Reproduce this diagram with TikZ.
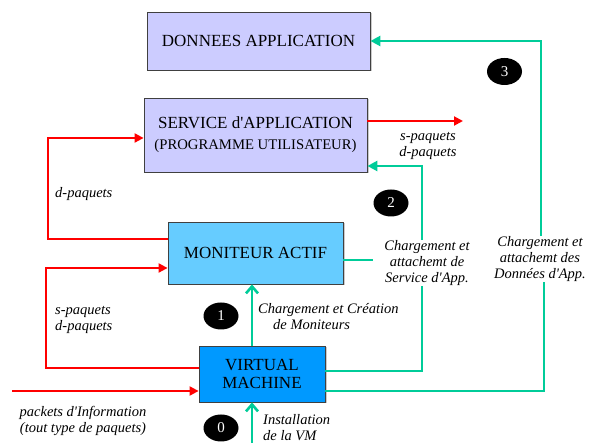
\documentclass[tikz,border=0pt]{standalone}
\usepackage{fontspec}
\setmainfont{Liberation Serif}
\usetikzlibrary{arrows.meta,shapes.geometric,shadows}
\definecolor{lav}{HTML}{CCCCFF}
\definecolor{monblue}{HTML}{66CCFF}
\definecolor{vmblue}{HTML}{0099FF}
\definecolor{grn}{HTML}{00CC99}
\definecolor{rd}{HTML}{FF0000}
\newcommand{\ap}{\textquotesingle}
\tikzset{
  box/.style={draw=black!75, line width=0.8pt, inner sep=0pt, align=center,
    font=\fontsize{17}{18}\selectfont,
    drop shadow={shadow xshift=1.5pt, shadow yshift=-1.5pt, fill=black!35, opacity=0.6}},
  lbl/.style={inner sep=0pt, font=\fontsize{14.5}{16}\selectfont\itshape},
  num/.style={ellipse, fill=black, text=white, inner sep=0pt,
    minimum width=35pt, minimum height=27pt, font=\fontsize{15}{16}\selectfont},
  redln/.style={draw=rd, line width=2pt},
  redarr/.style={redln, -{Triangle[length=9pt,width=9pt]}},
  grnln/.style={draw=grn, line width=2.6pt},
  grnarr/.style={grnln, -{Triangle[length=10pt,width=10pt]}},
  grnup/.style={grnln, -{Straight Barb[length=7pt,width=12pt,line width=2.6pt]}}
}
\begin{document}
\begin{tikzpicture}[x=1pt,y=-1pt]
\useasboundingbox (0,0) rectangle (590,443);
% boxes
\node[box, fill=lav, minimum width=223pt, minimum height=58pt] (don) at (258.5,41) {DONNEES APPLICATION};
\node[box, fill=lav, minimum width=223pt, minimum height=74pt] (svc) at (255.5,135)
  {SERVICE d\ap APPLICATION\\[3pt]{\fontsize{14.7}{16}\selectfont (PROGRAMME UTILISATEUR)}};
\node[box, fill=monblue, minimum width=175pt, minimum height=62pt] (mon) at (255.5,253) {MONITEUR ACTIF};
\node[box, fill=vmblue, minimum width=126pt, minimum height=56pt] (vm) at (262,374) {VIRTUAL\\MACHINE};
% junction labels
\node[lbl, align=center] (slbl) at (427,263) {Chargement et\\attachemt de\\Service d\ap App.};
\node[lbl, align=center] (dlbl) at (540,259) {Chargement et\\attachemt des\\Données d\ap App.};
% free ends
\coordinate (inS) at (12,391);
\coordinate (outE) at (463,121);
\coordinate (bot) at (252,443);
% red connectors
\draw[redarr] (mon.west |- 0,239) -| (48,138) -- (svc.west |- 0,138);
\draw[redarr] (vm.west |- 0,368) -| (46,268) -- (mon.west |- 0,268);
\draw[redarr] (inS) -- (vm.west |- inS);
\draw[redarr] (svc.east |- outE) -- (outE);
% green connectors
\draw[grnup] (bot) -- (vm.south -| bot);
\draw[grnup] (vm.north -| bot) -- (mon.south -| bot);
\draw[grnln] (vm.east |- 0,371) -| ([xshift=-5pt]slbl.south);
\draw[grnarr] ([xshift=-5pt]slbl.north) |- (svc.east |- 0,166);
\draw[grnln] (mon.east |- 0,260) -- ([xshift=-11pt]slbl.west |- 0,260);
\draw[grnln] (vm.east |- 0,391) -| ([xshift=4pt]dlbl.south);
\draw[grnarr] ([xshift=1pt]dlbl.north) |- (don.east);
% labels
\node[lbl, anchor=west] (l1) at (55,194) {d-paquets};
\node[lbl, anchor=west, align=left] (l2) at (55,320) {s-paquets\\d-paquets};
\node[lbl, align=center] (l3) at (83,421) {packets d\ap Information\\(tout type de paquets)};
\node[lbl, align=center] (l4) at (428,146) {s-paquets\\d-paquets};
\node[lbl, anchor=west, align=left] (l5) at (258,317) {Chargement et Création\\\hspace{15pt}de Moniteurs};
\node[lbl, anchor=west, align=left] (l6) at (263,428) {Installation\\de la VM};
% numbers
\node[num] (n0) at (221,428) {0};
\node[num] (n1) at (221,316) {1};
\node[num] (n2) at (391,203) {2};
\node[num] (n3) at (504.5,71.5) {3};
\end{tikzpicture}
\end{document}
